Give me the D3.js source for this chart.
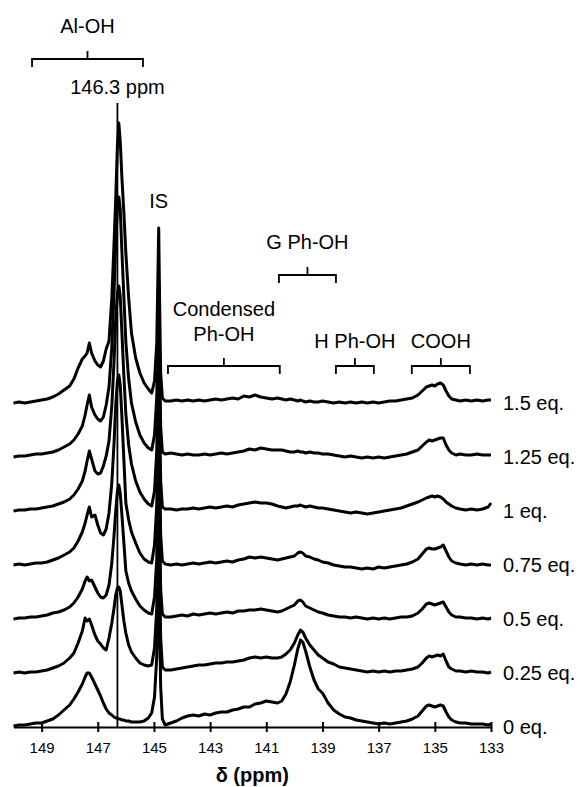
<!DOCTYPE html>
<html>
<head>
<meta charset="utf-8">
<script src="https://cdn.jsdelivr.net/npm/d3@7"></script>
<style>
  body { margin: 0; background: #fff; }
  svg { display: block; font-family: "Liberation Sans", Arial, sans-serif; }
</style>
</head>
<body>
<svg id="chart" width="581" height="787"></svg>
<script>
// chemical shift grid (ppm), shared by all spectra
const ppm = [
  150.0, 149.8, 149.6, 149.4, 149.2, 149.0, 148.8, 148.6, 148.4, 148.2, 148.0,
  147.85, 147.7, 147.55, 147.45, 147.38, 147.3, 147.22, 147.1, 147.0, 146.9, 146.8, 146.7,
  146.6, 146.5, 146.42, 146.36, 146.3, 146.25, 146.2, 146.14, 146.07, 146.0, 145.9, 145.8, 145.65, 145.5, 145.35, 145.2, 145.08,
  144.98, 144.9, 144.86, 144.83, 144.8, 144.76, 144.7, 144.6,
  144.4, 144.2, 144.0, 143.8, 143.6, 143.4, 143.2, 143.0, 142.8, 142.6, 142.4, 142.2, 142.0, 141.8, 141.6, 141.4, 141.2, 141.0, 140.8, 140.6,
  140.45, 140.3, 140.15, 140.0, 139.88, 139.78, 139.7, 139.6, 139.45, 139.3, 139.15, 139.0, 138.8, 138.6,
  138.4, 138.2, 138.0, 137.8, 137.6, 137.4, 137.2, 137.0, 136.8, 136.6, 136.4, 136.2, 136.0, 135.8,
  135.6, 135.45, 135.3, 135.2, 135.1, 135.0, 134.9, 134.8, 134.7, 134.6, 134.5, 134.4, 134.25, 134.1,
  133.9, 133.7, 133.5, 133.3, 133.1, 133.0
];

// intensities (arbitrary units)
const eq0 = [
  1, 2, 2, 3, 4, 4, 6, 8, 12, 17, 22,
  28, 35, 43, 50, 54, 54, 50, 43, 37, 31, 24, 18,
  14, 12, 10, 9, 9, 8, 8, 7, 7, 6, 6, 5, 5, 5, 6, 9, 14,
  30, 70, 130, 175, 110, 40, 8, 2,
  4, 6, 9, 11, 12, 11, 13, 12, 14, 15, 15, 17, 18, 20, 20, 23, 24, 26, 25, 24,
  26, 33, 45, 62, 78, 87, 85, 76, 60, 47, 38, 34, 24, 17,
  13, 10, 9, 7, 6, 5, 4, 3, 4, 3, 4, 5, 6, 8,
  11, 16, 21, 22, 21, 20, 21, 22, 21, 15, 10, 7, 5, 4,
  4, 3, 3, 3, 2, 3
];
const eq025 = [
  0, 1, 0, 1, 1, 2, 3, 5, 7, 10, 15,
  20, 30, 42, 55, 52, 54, 48, 38, 32, 29, 25, 23,
  35, 50, 65, 78, 85, 86, 82, 68, 52, 40, 28, 21, 15, 10, 8, 7, 8,
  25, 65, 130, 175, 110, 35, 6, 3,
  3, 4, 5, 6, 7, 8, 8, 9, 10, 10, 11, 11, 12, 13, 15, 16, 15, 16, 15, 15,
  16, 19, 23, 30, 38, 43, 41, 35, 28, 23, 18, 15, 11, 9,
  6, 5, 4, 3, 2, 1, 2, 1, 2, 1, 2, 2, 3, 4,
  6, 10, 15, 17, 16, 17, 18, 17, 19, 12, 6, 4, 2, 2,
  1, 2, 1, 1, 0, 1
];
const eq05 = [
  0, 1, 1, 2, 2, 3, 4, 6, 7, 9, 12,
  16, 22, 30, 38, 42, 38, 39, 32, 26, 22, 21, 24,
  34, 56, 84, 108, 128, 134, 126, 104, 76, 48, 36, 28, 20, 13, 9, 6, 5,
  22, 60, 125, 175, 105, 30, 5, 2,
  2, 3, 4, 3, 5, 4, 5, 6, 5, 6, 7, 6, 8, 8, 9, 9, 10, 9, 8, 7,
  8, 10, 12, 14, 18, 19, 17, 13, 11, 9, 7, 6, 4, 3,
  2, 2, 1, 2, 1, 0, 1, 0, 1, 0, 1, 2, 2, 3,
  6, 10, 15, 16, 15, 14, 15, 16, 17, 12, 7, 4, 2, 2,
  1, 1, 0, 1, 0, 1
];
const eq075 = [
  0, 1, 0, 1, 2, 2, 3, 5, 7, 10, 13,
  17, 24, 33, 42, 50, 58, 48, 50, 40, 32, 30, 36,
  52, 82, 122, 160, 184, 190, 180, 148, 105, 62, 45, 33, 22, 12, 6, 3, 2,
  20, 60, 125, 175, 105, 30, 4, 1,
  0, 1, 0, 1, 2, 1, 2, 3, 2, 3, 4, 3, 5, 6, 8, 7, 8, 7, 6, 5,
  6, 7, 8, 9, 12, 13, 12, 9, 8, 6, 5, 3, 2, 0,
  -1, -2, -2, -3, -4, -3, -4, -2, -3, -2, -1, 0, 1, 3,
  6, 11, 16, 17, 16, 16, 17, 18, 20, 14, 8, 4, 2, 1,
  0, 1, 0, 1, 0, 0
];
const eq1 = [
  0, 1, 1, 2, 2, 3, 4, 5, 7, 9, 12,
  16, 22, 30, 40, 50, 60, 52, 40, 37, 38, 45, 55,
  70, 105, 150, 192, 218, 225, 215, 178, 135, 97, 66, 47, 30, 19, 12, 7, 5,
  20, 60, 125, 175, 105, 30, 4, 2,
  2, 1, 2, 2, 3, 2, 3, 4, 3, 4, 5, 4, 6, 7, 8, 9, 8, 8, 7, 5,
  4, 3, 4, 5, 5, 6, 5, 4, 5, 4, 3, 3, 2, 1,
  0, -1, -2, -1, -2, -3, -2, -1, 0, 1, 2, 3, 5, 7,
  9, 11, 13, 14, 15, 14, 15, 14, 12, 9, 7, 5, 3, 2,
  1, 2, 1, 2, 4, 8
];
const eq125 = [
  0, 1, 1, 2, 3, 3, 4, 5, 7, 10, 13,
  17, 23, 31, 42, 52, 62, 50, 42, 38, 36, 40, 52,
  70, 110, 165, 215, 250, 260, 248, 205, 160, 115, 78, 54, 35, 22, 14, 9, 7,
  22, 60, 125, 175, 105, 30, 5, 3,
  4, 3, 2, 3, 2, 2, 3, 2, 3, 4, 3, 4, 5, 6, 8, 7, 9, 8, 7, 7,
  7, 6, 5, 5, 6, 5, 5, 4, 5, 4, 4, 3, 3, 2,
  1, 0, 1, 0, -1, 0, -1, 0, -1, 0, 1, 2, 3, 5,
  7, 11, 15, 17, 16, 17, 18, 19, 19, 12, 7, 4, 2, 3,
  2, 2, 3, 2, 2, 2
];
const eq15 = [
  0, 1, 0, 1, 2, 3, 4, 6, 9, 13, 17,
  24, 35, 44, 47, 50, 60, 50, 42, 38, 36, 42, 54,
  62, 105, 160, 205, 258, 280, 262, 225, 190, 150, 105, 70, 45, 30, 20, 14, 10,
  22, 60, 125, 175, 105, 30, 5, 2,
  2, 3, 2, 3, 2, 3, 2, 3, 4, 3, 4, 5, 4, 7, 6, 8, 6, 5, 4, 5,
  4, 3, 4, 3, 2, 3, 2, 1, 2, 1, 1, 2, 1, 0,
  1, 0, 1, 0, 1, 0, 1, 0, 1, 2, 2, 3, 4, 5,
  8, 12, 16, 17, 18, 17, 19, 20, 18, 12, 7, 4, 3, 2,
  3, 2, 3, 2, 3, 3
];

const seriesLabels = ['0 eq.', '0.25 eq.', '0.5 eq.', '0.75 eq.', '1 eq.', '1.25 eq.', '1.5 eq.'];
const seriesValues = [eq0, eq025, eq05, eq075, eq1, eq125, eq15];

const tickValues = [149, 147, 145, 143, 141, 139, 137, 135, 133];

// assignment regions (ppm)
const regionNames = [['Al-OH'], ['Condensed', 'Ph-OH'], ['G Ph-OH'], ['H Ph-OH'], ['COOH']];
const regionFrom = [149.34, 144.5, 140.55, 138.52, 135.82];
const regionTo = [145.39, 140.52, 138.52, 137.17, 133.75];

const markerPpm = 146.3;
const standardPpm = 144.83;

// ---- layout ----
const svg = d3.select('#chart');
const stackStep = 54;           // vertical offset between spectra (intensity units)
const bracketY = [59, 366, 275, 366, 366];
const labelGap = [26, 25, 26, 18, 18];
const lineHeight = 25;

const x = d3.scaleLinear().domain([150, 133]).range([13.5, 491]);
const y = d3.scaleLinear().domain([0, 624]).range([727, 103]);

seriesValues.forEach(v => { if (v.length !== ppm.length) console.error('length mismatch', v.length); });

const line = d3.line()
  .x(d => x(d[0]))
  .y(d => y(d[1]))
  .curve(d3.curveLinear);

// marker line at 146.3 ppm
svg.append('line')
  .attr('x1', x(markerPpm)).attr('x2', x(markerPpm))
  .attr('y1', y(0)).attr('y2', y(y.domain()[1]))
  .attr('stroke', '#000').attr('stroke-width', 1.8);

// spectra
svg.append('g')
  .selectAll('path')
  .data(seriesValues)
  .enter()
    .append('path')
    .attr('d', (vals, i) => line(vals.map((v, k) => [ppm[k], v + i * stackStep])))
    .attr('fill', 'none')
    .attr('stroke', '#000')
    .attr('stroke-width', 3)
    .attr('stroke-linejoin', 'round');

// series labels
svg.append('g')
  .selectAll('text')
  .data(seriesLabels)
  .enter()
    .append('text')
    .attr('x', 503)
    .attr('y', (d, i) => y(i * stackStep))
    .attr('dy', '0.35em')
    .attr('font-size', 20)
    .text(d => d);

// x axis
const xAxis = d3.axisBottom(x)
  .tickValues(tickValues)
  .tickSize(5)
  .tickSizeOuter(0)
  .tickPadding(10)
  .tickFormat(d3.format('d'));

const gx = svg.append('g')
  .attr('transform', `translate(0,${y(0)})`)
  .call(xAxis);
gx.select('.domain').attr('stroke-width', 2);
gx.selectAll('.tick line').attr('y1', -5).attr('y2', 5).attr('stroke-width', 2);
gx.selectAll('.tick text')
  .attr('font-size', 15)
  .attr('font-family', '"Liberation Sans", Arial, sans-serif')
  .attr('fill', '#000');

svg.append('text')
  .attr('x', (x.range()[0] + x.range()[1]) / 2)
  .attr('y', 782)
  .attr('text-anchor', 'middle')
  .attr('font-size', 20)
  .attr('font-weight', 'bold')
  .text('δ (ppm)');

// region brackets
const regions = regionNames.map((names, i) => ({
  names, from: regionFrom[i], to: regionTo[i], by: bracketY[i], gap: labelGap[i]
}));

const rg = svg.append('g')
  .selectAll('g')
  .data(regions)
  .enter()
    .append('g');

rg.append('path')
  .attr('d', d => {
    const x1 = x(d.from), x2 = x(d.to), xm = (x1 + x2) / 2;
    return `M${x1},${d.by + 8}V${d.by}H${x2}V${d.by + 8}M${xm},${d.by}V${d.by - 8}`;
  })
  .attr('fill', 'none')
  .attr('stroke', '#000')
  .attr('stroke-width', 1.8);

rg.each(function(d) {
  const g = d3.select(this);
  const xm = (x(d.from) + x(d.to)) / 2;
  const n = d.names.length;
  d.names.forEach((t, k) => {
    g.append('text')
      .attr('x', xm)
      .attr('y', d.by - d.gap - (n - 1 - k) * lineHeight)
      .attr('text-anchor', 'middle')
      .attr('font-size', 20)
      .text(t);
  });
});

// peak annotations
svg.append('text')
  .attr('x', x(markerPpm))
  .attr('y', 94)
  .attr('text-anchor', 'middle')
  .attr('font-size', 20)
  .text(markerPpm + ' ppm');

svg.append('text')
  .attr('x', x(standardPpm))
  .attr('y', 208)
  .attr('text-anchor', 'middle')
  .attr('font-size', 20)
  .text('IS');
</script>
</body>
</html>
